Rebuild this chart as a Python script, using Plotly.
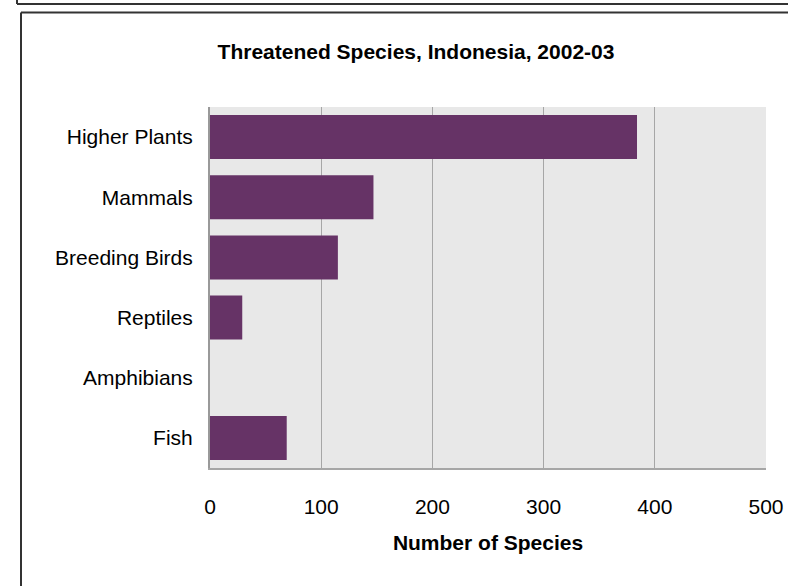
import plotly.graph_objects as go

categories = ["Higher Plants", "Mammals", "Breeding Birds", "Reptiles", "Amphibians", "Fish"]
values = [384, 147, 115, 29, 0, 69]
x_ticks = [0, 100, 200, 300, 400, 500]

W, H = 788, 586
L, R, T, B = 210, 766, 107, 468

def px(x):
    return (x - L) / (R - L)

def py(y):
    return (B - y) / (B - T)

fig = go.Figure(go.Bar(
    y=categories, x=values, orientation="h",
    marker=dict(color="#663366", line=dict(width=0)),
))

frame = "#333333"
shapes = [
    dict(type="line", xref="paper", yref="paper", x0=px(17), x1=px(800), y0=py(4), y1=py(4),
         line=dict(color=frame, width=2)),
    dict(type="line", xref="paper", yref="paper", x0=px(17), x1=px(17), y0=py(-5), y1=py(4),
         line=dict(color=frame, width=2)),
    dict(type="line", xref="paper", yref="paper", x0=px(21), x1=px(800), y0=py(12.5), y1=py(12.5),
         line=dict(color=frame, width=2)),
    dict(type="line", xref="paper", yref="paper", x0=px(21), x1=px(21), y0=py(12.5), y1=py(600),
         line=dict(color=frame, width=2)),
]

fig.update_layout(
    width=W, height=H,
    margin=dict(l=L, r=W - R, t=T, b=H - B, pad=0, autoexpand=False),
    paper_bgcolor="white", plot_bgcolor="#e8e8e8",
    font=dict(family="Liberation Sans, Arial, sans-serif", color="black", size=21),
    title=dict(text="<b>Threatened Species, Indonesia, 2002-03</b>", font=dict(size=21),
               xref="paper", x=px(416), xanchor="center",
               yref="container", y=1 - 52 / H, yanchor="middle"),
    bargap=0.27,
    showlegend=False,
    shapes=shapes,
    xaxis=dict(range=[0, 500], tickvals=x_ticks, ticktext=[str(v) for v in x_ticks],
               showgrid=True, gridcolor="#a6a6a6", gridwidth=1, zeroline=False,
               showline=True, linecolor="#a6a6a6", linewidth=2, mirror=False, automargin=False,
               ticks="", ticklabelstandoff=19, tickfont=dict(size=21),
               title=dict(text="<b>Number of Species</b>", font=dict(size=21), standoff=18)),
    yaxis=dict(autorange="reversed", showgrid=False, zeroline=False, automargin=False,
               showline=True, linecolor="#999999", linewidth=2,
               ticks="", ticklabelstandoff=11, tickfont=dict(size=21)),
)

fig.write_html("out.html")
